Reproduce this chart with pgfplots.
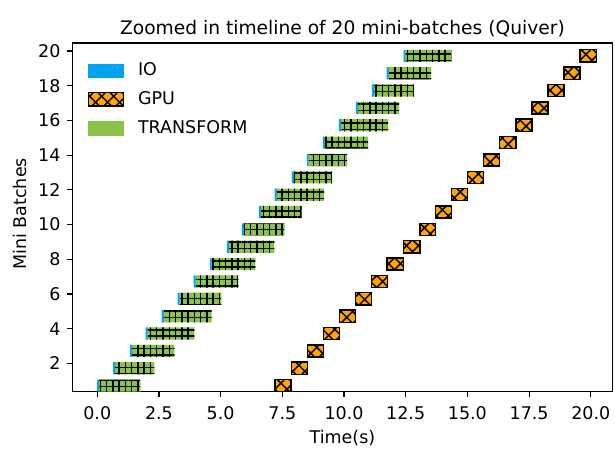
\documentclass[border=0pt]{standalone}
\usepackage{fontspec}
\setmainfont{DejaVu Sans}
\usepackage{pgfplots}
\pgfplotsset{compat=1.18}
\usepackage{pgfplotstable}
\usetikzlibrary{patterns.meta}
\definecolor{ioblue}{RGB}{0,163,237}
\definecolor{trgreen}{RGB}{139,195,74}
\definecolor{gpuorange}{RGB}{255,165,0}
% i: mini-batch, s: IO start, ioe: IO end, tre: transform end, gs/ge: GPU start/end
\pgfplotstableread{
i s ioe tre gs ge
1 0.00 0.08 1.76 7.21 7.86
2 0.64 0.72 2.32 7.87 8.51
3 1.33 1.41 3.13 8.51 9.16
4 1.96 2.04 3.94 9.16 9.81
5 2.61 2.69 4.63 9.81 10.46
6 3.26 3.34 5.03 10.46 11.11
7 3.91 3.99 5.72 11.11 11.76
8 4.56 4.64 6.41 11.75 12.40
9 5.25 5.33 7.18 12.40 13.07
10 5.86 5.94 7.59 13.07 13.71
11 6.55 6.63 8.28 13.70 14.36
12 7.19 7.27 9.19 14.35 15.01
13 7.89 7.97 9.52 15.01 15.66
14 8.49 8.57 10.13 15.66 16.31
15 9.14 9.22 10.98 16.31 16.96
16 9.79 9.87 11.79 16.96 17.61
17 10.48 10.56 12.23 17.61 18.26
18 11.13 11.21 12.84 18.26 18.92
19 11.73 11.81 13.53 18.92 19.57
20 12.42 12.50 14.35 19.57 20.23
}\batches
\tikzset{
  trhatch/.style={postaction={pattern={Hatch[angle=0,distance=4.3pt,line width=1pt]},pattern color=black}},
  gpuhatch/.style={postaction={pattern={Hatch[angle=45,distance=5.8pt,line width=1pt]},pattern color=black}},
}
\begin{document}
\fontsize{12}{14.4}\selectfont
\begin{tikzpicture}
\begin{axis}[
  name=main,
  scale only axis,
  width=370.4pt, height=239.2pt,
  xmin=-1.005, xmax=20.875, ymin=0.37, ymax=20.46,
  enlargelimits=false,
  xbar stacked,
  bar width=0.7,
  xtick={0,2.5,...,20},
  ytick={2,4,...,20},
  tick align=outside,
  tick pos=left,
  major tick length=3.5pt,
  every tick/.style={black, line width=0.8pt},
  axis line style={line width=0.8pt},
  /pgf/number format/assume math mode=true,
  xticklabel style={anchor=north, inner sep=0pt, /pgf/number format/fixed, /pgf/number format/fixed zerofill, /pgf/number format/precision=1},
  yticklabel style={anchor=east, inner sep=0pt, /pgf/number format/fixed, /pgf/number format/precision=0},
  xticklabel shift=6.5pt,
  yticklabel shift=4.5pt,
  title={Zoomed in timeline of 20 mini-batches (Quiver)},
  title style={at={(axis description cs:0.5,1.0242)}, anchor=base, yshift=-6pt, inner sep=0pt, font=\fontsize{12.8}{15}\selectfont},
  xlabel={Time(s)},
  xlabel style={at={(axis description cs:0.5,-0.1493)}, anchor=base, inner sep=0pt},
  ylabel={Mini Batches},
  ylabel style={at={(axis description cs:-0.086,0.51)}, anchor=base, inner sep=0pt},
  legend style={draw=none, fill=none, inner sep=0pt, outer sep=0pt,
    at={(axis description cs:0.028,0.9435)}, anchor=north west,
    row sep=9.1pt,
    nodes={inner sep=0pt, anchor=west},
    /tikz/every odd column/.append style={column sep=9.6pt}},
]
\addlegendimage{legend image code/.code={\fill[ioblue] (0pt,-4.6pt) rectangle (24pt,4.6pt);}}
\addlegendentry{IO}
\addlegendimage{legend image code/.code={\filldraw[fill=gpuorange, draw=black, line width=1pt, gpuhatch] (0pt,-4.6pt) rectangle (24pt,4.6pt);}}
\addlegendentry{GPU}
\addlegendimage{legend image code/.code={\fill[trgreen] (0pt,-4.6pt) rectangle (24pt,4.6pt);}}
\addlegendentry{TRANSFORM}
% invisible offset up to IO start
\addplot[forget plot, draw=none, fill=none, bar shift=-0.28] table[x expr=\thisrow{s}, y=i] {\batches};
% IO
\addplot[forget plot, draw=none, fill=ioblue, bar shift=-0.28] table[x expr=\thisrow{ioe}-\thisrow{s}, y=i] {\batches};
% TRANSFORM
\addplot[forget plot, draw=none, fill=trgreen, trhatch, bar shift=-0.28] table[x expr=\thisrow{tre}-\thisrow{ioe}, y=i] {\batches};
% invisible gap up to GPU start
\addplot[forget plot, draw=none, fill=none, bar shift=-0.28] table[x expr=\thisrow{gs}-\thisrow{tre}, y=i] {\batches};
% GPU
\addplot[forget plot, draw=black, line width=1pt, fill=gpuorange, gpuhatch, bar shift=-0.28] table[x expr=\thisrow{ge}-\thisrow{gs}, y=i] {\batches};
\end{axis}
\path (main.south west) ++(-49.7pt,-39.3pt) rectangle ++(421.9pt,308.0pt);
\end{tikzpicture}
\end{document}
